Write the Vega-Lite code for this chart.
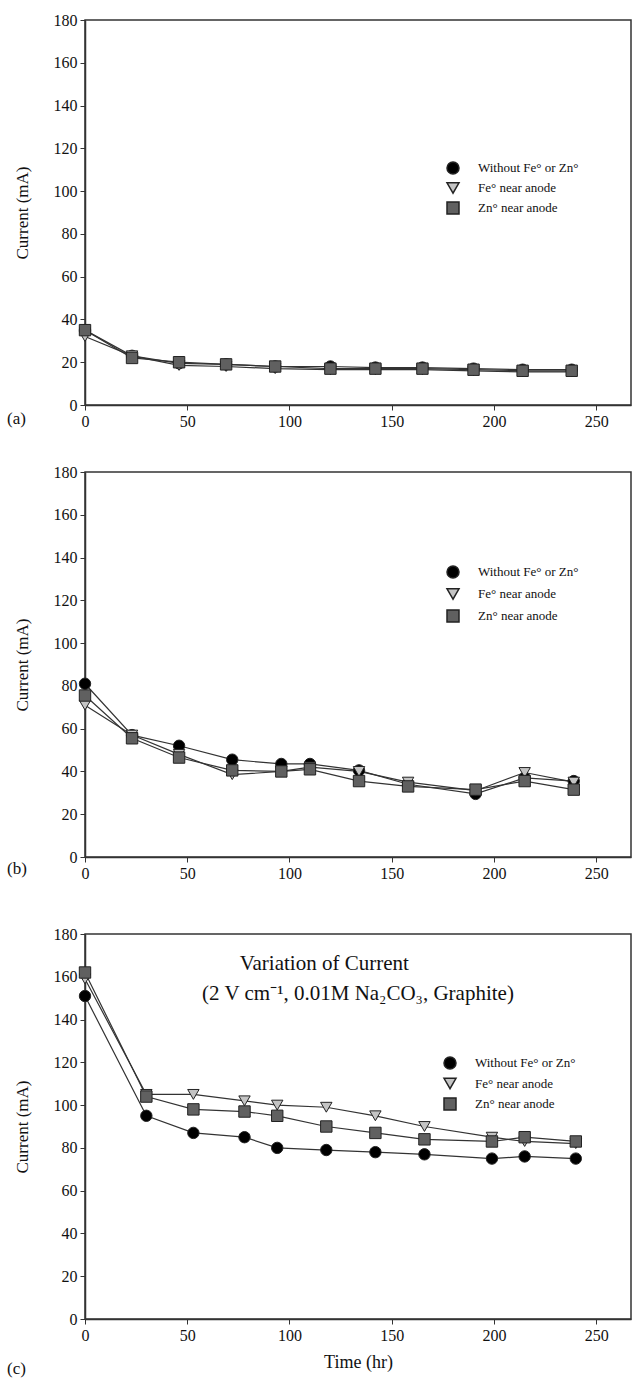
{
  "$schema": "https://vega.github.io/schema/vega-lite/v6.json",
  "padding": {"left": 6, "top": 11, "right": 0, "bottom": 5},
  "background": "white",
  "config": {
    "view": {"stroke": "#333", "strokeWidth": 1.5},
    "font": "Liberation Serif",
    "axis": {"labelFont": "Liberation Serif", "labelFontSize": 16, "labelColor": "#111", "titleFont": "Liberation Serif", "titleFontSize": 17, "titleFontWeight": "normal", "titleColor": "#111", "domainColor": "#333", "domainWidth": 1.5, "tickColor": "#333", "tickSize": 5, "grid": false, "labelFlush": false, "labelPadding": 3},
    "legend": {"labelFont": "Liberation Serif", "labelFontSize": 13, "labelColor": "#111"},
    "title": {"font": "Liberation Serif", "fontWeight": "normal", "color": "#111"}
  },
  "datasets": {
    "cur": [
      {"panel": "a", "series": "Without Fe° or  Zn°", "t": 0, "current": 35},
      {"panel": "a", "series": "Without Fe° or  Zn°", "t": 23, "current": 23},
      {"panel": "a", "series": "Without Fe° or  Zn°", "t": 46, "current": 19.5},
      {"panel": "a", "series": "Without Fe° or  Zn°", "t": 69, "current": 19},
      {"panel": "a", "series": "Without Fe° or  Zn°", "t": 93, "current": 18},
      {"panel": "a", "series": "Without Fe° or  Zn°", "t": 120, "current": 18},
      {"panel": "a", "series": "Without Fe° or  Zn°", "t": 142, "current": 17.5},
      {"panel": "a", "series": "Without Fe° or  Zn°", "t": 165, "current": 17.5},
      {"panel": "a", "series": "Without Fe° or  Zn°", "t": 190, "current": 17},
      {"panel": "a", "series": "Without Fe° or  Zn°", "t": 214, "current": 16.5},
      {"panel": "a", "series": "Without Fe° or  Zn°", "t": 238, "current": 16.5},
      {"panel": "a", "series": "Fe° near anode", "t": 0, "current": 32},
      {"panel": "a", "series": "Fe° near anode", "t": 23, "current": 23},
      {"panel": "a", "series": "Fe° near anode", "t": 46, "current": 18.5},
      {"panel": "a", "series": "Fe° near anode", "t": 69, "current": 18},
      {"panel": "a", "series": "Fe° near anode", "t": 93, "current": 17},
      {"panel": "a", "series": "Fe° near anode", "t": 120, "current": 16.5},
      {"panel": "a", "series": "Fe° near anode", "t": 142, "current": 16.5},
      {"panel": "a", "series": "Fe° near anode", "t": 165, "current": 16.5},
      {"panel": "a", "series": "Fe° near anode", "t": 190, "current": 16},
      {"panel": "a", "series": "Fe° near anode", "t": 214, "current": 15.5},
      {"panel": "a", "series": "Fe° near anode", "t": 238, "current": 15.5},
      {"panel": "a", "series": "Zn° near anode", "t": 0, "current": 35},
      {"panel": "a", "series": "Zn° near anode", "t": 23, "current": 22},
      {"panel": "a", "series": "Zn° near anode", "t": 46, "current": 20},
      {"panel": "a", "series": "Zn° near anode", "t": 69, "current": 19},
      {"panel": "a", "series": "Zn° near anode", "t": 93, "current": 18},
      {"panel": "a", "series": "Zn° near anode", "t": 120, "current": 17},
      {"panel": "a", "series": "Zn° near anode", "t": 142, "current": 17},
      {"panel": "a", "series": "Zn° near anode", "t": 165, "current": 17},
      {"panel": "a", "series": "Zn° near anode", "t": 190, "current": 16.5},
      {"panel": "a", "series": "Zn° near anode", "t": 214, "current": 16},
      {"panel": "a", "series": "Zn° near anode", "t": 238, "current": 16},
      {"panel": "b", "series": "Without Fe° or  Zn°", "t": 0, "current": 81},
      {"panel": "b", "series": "Without Fe° or  Zn°", "t": 23, "current": 57},
      {"panel": "b", "series": "Without Fe° or  Zn°", "t": 46, "current": 52},
      {"panel": "b", "series": "Without Fe° or  Zn°", "t": 72, "current": 45.5},
      {"panel": "b", "series": "Without Fe° or  Zn°", "t": 96, "current": 43.5},
      {"panel": "b", "series": "Without Fe° or  Zn°", "t": 110, "current": 43.5},
      {"panel": "b", "series": "Without Fe° or  Zn°", "t": 134, "current": 40.5},
      {"panel": "b", "series": "Without Fe° or  Zn°", "t": 158, "current": 34},
      {"panel": "b", "series": "Without Fe° or  Zn°", "t": 191, "current": 29.5},
      {"panel": "b", "series": "Without Fe° or  Zn°", "t": 215, "current": 37},
      {"panel": "b", "series": "Without Fe° or  Zn°", "t": 239, "current": 35.5},
      {"panel": "b", "series": "Fe° near anode", "t": 0, "current": 71},
      {"panel": "b", "series": "Fe° near anode", "t": 23, "current": 57},
      {"panel": "b", "series": "Fe° near anode", "t": 46, "current": 48},
      {"panel": "b", "series": "Fe° near anode", "t": 72, "current": 38.5},
      {"panel": "b", "series": "Fe° near anode", "t": 96, "current": 40},
      {"panel": "b", "series": "Fe° near anode", "t": 110, "current": 42},
      {"panel": "b", "series": "Fe° near anode", "t": 134, "current": 40},
      {"panel": "b", "series": "Fe° near anode", "t": 158, "current": 35},
      {"panel": "b", "series": "Fe° near anode", "t": 191, "current": 31},
      {"panel": "b", "series": "Fe° near anode", "t": 215, "current": 39.5},
      {"panel": "b", "series": "Fe° near anode", "t": 239, "current": 35},
      {"panel": "b", "series": "Zn° near anode", "t": 0, "current": 75.5},
      {"panel": "b", "series": "Zn° near anode", "t": 23, "current": 55.5},
      {"panel": "b", "series": "Zn° near anode", "t": 46, "current": 46.5},
      {"panel": "b", "series": "Zn° near anode", "t": 72, "current": 40.5},
      {"panel": "b", "series": "Zn° near anode", "t": 96, "current": 40},
      {"panel": "b", "series": "Zn° near anode", "t": 110, "current": 41},
      {"panel": "b", "series": "Zn° near anode", "t": 134, "current": 35.5},
      {"panel": "b", "series": "Zn° near anode", "t": 158, "current": 33},
      {"panel": "b", "series": "Zn° near anode", "t": 191, "current": 31.5},
      {"panel": "b", "series": "Zn° near anode", "t": 215, "current": 35.5},
      {"panel": "b", "series": "Zn° near anode", "t": 239, "current": 31.5},
      {"panel": "c", "series": "Without Fe° or  Zn°", "t": 0, "current": 151},
      {"panel": "c", "series": "Without Fe° or  Zn°", "t": 30, "current": 95},
      {"panel": "c", "series": "Without Fe° or  Zn°", "t": 53, "current": 87},
      {"panel": "c", "series": "Without Fe° or  Zn°", "t": 78, "current": 85},
      {"panel": "c", "series": "Without Fe° or  Zn°", "t": 94, "current": 80},
      {"panel": "c", "series": "Without Fe° or  Zn°", "t": 118, "current": 79},
      {"panel": "c", "series": "Without Fe° or  Zn°", "t": 142, "current": 78},
      {"panel": "c", "series": "Without Fe° or  Zn°", "t": 166, "current": 77},
      {"panel": "c", "series": "Without Fe° or  Zn°", "t": 199, "current": 75},
      {"panel": "c", "series": "Without Fe° or  Zn°", "t": 215, "current": 76},
      {"panel": "c", "series": "Without Fe° or  Zn°", "t": 240, "current": 75},
      {"panel": "c", "series": "Fe° near anode", "t": 0, "current": 159},
      {"panel": "c", "series": "Fe° near anode", "t": 30, "current": 105},
      {"panel": "c", "series": "Fe° near anode", "t": 53, "current": 105},
      {"panel": "c", "series": "Fe° near anode", "t": 78, "current": 102},
      {"panel": "c", "series": "Fe° near anode", "t": 94, "current": 100},
      {"panel": "c", "series": "Fe° near anode", "t": 118, "current": 99},
      {"panel": "c", "series": "Fe° near anode", "t": 142, "current": 95},
      {"panel": "c", "series": "Fe° near anode", "t": 166, "current": 90},
      {"panel": "c", "series": "Fe° near anode", "t": 199, "current": 85},
      {"panel": "c", "series": "Fe° near anode", "t": 215, "current": 83},
      {"panel": "c", "series": "Fe° near anode", "t": 240, "current": 82},
      {"panel": "c", "series": "Zn° near anode", "t": 0, "current": 162},
      {"panel": "c", "series": "Zn° near anode", "t": 30, "current": 104},
      {"panel": "c", "series": "Zn° near anode", "t": 53, "current": 98},
      {"panel": "c", "series": "Zn° near anode", "t": 78, "current": 97},
      {"panel": "c", "series": "Zn° near anode", "t": 94, "current": 95},
      {"panel": "c", "series": "Zn° near anode", "t": 118, "current": 90},
      {"panel": "c", "series": "Zn° near anode", "t": 142, "current": 87},
      {"panel": "c", "series": "Zn° near anode", "t": 166, "current": 84},
      {"panel": "c", "series": "Zn° near anode", "t": 199, "current": 83},
      {"panel": "c", "series": "Zn° near anode", "t": 215, "current": 85},
      {"panel": "c", "series": "Zn° near anode", "t": 240, "current": 83}
    ]
  },
  "spacing": 33,
  "resolve": {"scale": {"shape": "independent", "fill": "independent"}, "legend": {"shape": "independent", "fill": "independent"}},
  "vconcat": [
    {
      "width": 546, "height": 385,
      "data": {"name": "cur"},
      "transform": [{"filter": "datum.panel === 'a'"}],
      "title": {"text": "(a)", "orient": "bottom", "anchor": "start", "frame": "group", "fontSize": 17, "dx": -78, "dy": -22},
      "encoding": {
        "x": {"field": "t", "type": "quantitative", "scale": {"domain": [0, 267], "nice": false}, "axis": {"values": [0, 50, 100, 150, 200, 250], "title": null}},
        "y": {"field": "current", "type": "quantitative", "scale": {"domain": [0, 180], "nice": false}, "axis": {"values": [0, 20, 40, 60, 80, 100, 120, 140, 160, 180], "title": "Current (mA)", "titlePadding": 22}}
      },
      "layer": [
        {"mark": {"type": "line", "color": "#333", "strokeWidth": 1.2}, "encoding": {"detail": {"field": "series"}}},
        {"mark": {"type": "point", "filled": true, "size": 130, "stroke": "#222", "strokeWidth": 1, "opacity": 1},
         "encoding": {
           "shape": {"field": "series", "type": "nominal", "scale": {"domain": ["Without Fe° or  Zn°", "Fe° near anode", "Zn° near anode"], "range": ["circle", "triangle-down", "square"]},
             "legend": {"orient": "none", "legendX": 361, "legendY": 141, "title": null, "symbolSize": 144, "labelOffset": 18, "rowPadding": 2}},
           "fill": {"field": "series", "type": "nominal", "scale": {"domain": ["Without Fe° or  Zn°", "Fe° near anode", "Zn° near anode"], "range": ["#000000", "#c4c4c4", "#606060"]},
             "legend": {"orient": "none", "legendX": 361, "legendY": 141, "title": null, "symbolSize": 144, "labelOffset": 18, "rowPadding": 2}}
         }}
      ]
    },
    {
      "width": 546, "height": 385,
      "data": {"name": "cur"},
      "transform": [{"filter": "datum.panel === 'b'"}],
      "title": {"text": "(b)", "orient": "bottom", "anchor": "start", "frame": "group", "fontSize": 17, "dx": -78, "dy": -34},
      "encoding": {
        "x": {"field": "t", "type": "quantitative", "scale": {"domain": [0, 267], "nice": false}, "axis": {"values": [0, 50, 100, 150, 200, 250], "title": " ", "titleFontSize": 10, "titlePadding": 0}},
        "y": {"field": "current", "type": "quantitative", "scale": {"domain": [0, 180], "nice": false}, "axis": {"values": [0, 20, 40, 60, 80, 100, 120, 140, 160, 180], "title": "Current (mA)", "titlePadding": 22}}
      },
      "layer": [
        {"mark": {"type": "line", "color": "#333", "strokeWidth": 1.2}, "encoding": {"detail": {"field": "series"}}},
        {"mark": {"type": "point", "filled": true, "size": 130, "stroke": "#222", "strokeWidth": 1, "opacity": 1},
         "encoding": {
           "shape": {"field": "series", "type": "nominal", "scale": {"domain": ["Without Fe° or  Zn°", "Fe° near anode", "Zn° near anode"], "range": ["circle", "triangle-down", "square"]},
             "legend": {"orient": "none", "legendX": 361, "legendY": 93, "title": null, "symbolSize": 144, "labelOffset": 18, "rowPadding": 4}},
           "fill": {"field": "series", "type": "nominal", "scale": {"domain": ["Without Fe° or  Zn°", "Fe° near anode", "Zn° near anode"], "range": ["#000000", "#c4c4c4", "#606060"]},
             "legend": {"orient": "none", "legendX": 361, "legendY": 93, "title": null, "symbolSize": 144, "labelOffset": 18, "rowPadding": 4}}
         }}
      ]
    },
    {
      "width": 546, "height": 385,
      "data": {"name": "cur"},
      "title": {"text": "(c)", "orient": "bottom", "anchor": "start", "frame": "group", "fontSize": 17, "dx": -78, "dy": -14},
      "encoding": {
        "x": {"field": "t", "type": "quantitative", "scale": {"domain": [0, 267], "nice": false}, "axis": {"values": [0, 50, 100, 150, 200, 250], "title": "Time (hr)", "titleFontSize": 18, "titlePadding": 10}},
        "y": {"field": "current", "type": "quantitative", "scale": {"domain": [0, 180], "nice": false}, "axis": {"values": [0, 20, 40, 60, 80, 100, 120, 140, 160, 180], "title": "Current (mA)", "titlePadding": 22}}
      },
      "layer": [
        {"transform": [{"filter": "datum.panel === 'c' && datum.t === 0 && datum.series === 'Zn° near anode'"}],
         "mark": {"type": "text", "text": "Variation of Current", "fontSize": 21, "font": "Liberation Serif", "color": "#111", "baseline": "middle", "align": "center"},
         "encoding": {"x": {"datum": 117}, "y": {"datum": 166}}},
        {"transform": [{"filter": "datum.panel === 'c' && datum.t === 0 && datum.series === 'Zn° near anode'"}],
         "mark": {"type": "text", "text": "(2 V cm⁻¹, 0.01M Na₂CO₃, Graphite)", "fontSize": 21, "font": "Liberation Serif", "color": "#111", "baseline": "middle", "align": "center"},
         "encoding": {"x": {"datum": 133.5}, "y": {"datum": 152}}},
        {"transform": [{"filter": "datum.panel === 'c'"}],
         "mark": {"type": "line", "color": "#333", "strokeWidth": 1.2}, "encoding": {"detail": {"field": "series"}}},
        {"transform": [{"filter": "datum.panel === 'c'"}],
         "mark": {"type": "point", "filled": true, "size": 130, "stroke": "#222", "strokeWidth": 1, "opacity": 1},
         "encoding": {
           "shape": {"field": "series", "type": "nominal", "scale": {"domain": ["Without Fe° or  Zn°", "Fe° near anode", "Zn° near anode"], "range": ["circle", "triangle-down", "square"]},
             "legend": {"orient": "none", "legendX": 358, "legendY": 122, "title": null, "symbolSize": 144, "labelOffset": 18, "rowPadding": 2.5}},
           "fill": {"field": "series", "type": "nominal", "scale": {"domain": ["Without Fe° or  Zn°", "Fe° near anode", "Zn° near anode"], "range": ["#000000", "#c4c4c4", "#606060"]},
             "legend": {"orient": "none", "legendX": 358, "legendY": 122, "title": null, "symbolSize": 144, "labelOffset": 18, "rowPadding": 2.5}}
         }}
      ]
    }
  ]
}
